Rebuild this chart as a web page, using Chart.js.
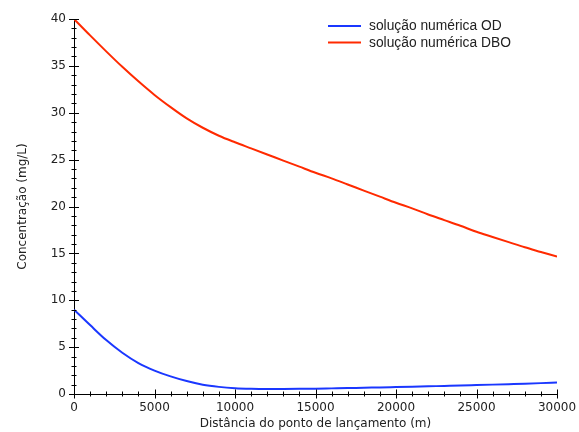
<!DOCTYPE html>
<html>
<head>
<meta charset="utf-8">
<script src="https://cdn.jsdelivr.net/npm/chart.js@4.4.1/dist/chart.umd.min.js"></script>
<style>
  html, body { margin: 0; padding: 0; background: #fff; }
  #wrap { width: 579px; height: 432px; }
</style>
</head>
<body>
<div id="wrap"><canvas id="chart" width="579" height="432"></canvas></div>
<script>
// distância (m)
const dist = [0,1000,2000,3000,4000,5000,6000,7000,8000,9000,10000,
  11000,12000,13000,14000,15000,16000,17000,18000,19000,20000,
  21000,22000,23000,24000,25000,26000,27000,28000,29000,30000];
// OD (mg/L)
const od = [9.0,7.35,5.75,4.4,3.3,2.5,1.88,1.38,0.99,0.76,0.62,
  0.56,0.54,0.54,0.55,0.57,0.6,0.63,0.67,0.7,0.74,
  0.78,0.82,0.86,0.9,0.95,1.0,1.05,1.1,1.16,1.23];
// DBO (mg/L)
const dbo = [40,38.25,36.55,34.9,33.35,31.9,30.6,29.4,28.4,27.55,26.85,
  26.2,25.55,24.9,24.25,23.6,23.0,22.35,21.7,21.05,20.4,
  19.8,19.15,18.55,17.95,17.3,16.75,16.2,15.65,15.15,14.65];
const labels = ['solução numérica OD', 'solução numérica DBO'];
const colors = ['#1a37ff', '#ff2a00'];

const xTicks = { min: 0, max: 30000, major: 5000, minor: 1000 };
const yTicks = { min: 0, max: 40, major: 5, minor: 1 };

const pts = arr => arr.map((v,i)=>({ x: dist[i], y: v }));

// ticks that cross the axis line, major + minor
const crossTicks = {
  id: 'crossTicks',
  afterDraw(chart) {
    const {ctx, chartArea, scales:{x, y}} = chart;
    ctx.save();
    ctx.strokeStyle = '#000';
    ctx.lineWidth = 1;
    ctx.beginPath();
    for (let v = xTicks.min; v <= xTicks.max; v += xTicks.minor) {
      const px = Math.round(x.getPixelForValue(v)) + 0.5;
      const len = v % xTicks.major === 0 ? 4.5 : 2.5;
      ctx.moveTo(px, chartArea.bottom - len);
      ctx.lineTo(px, chartArea.bottom + len);
    }
    for (let v = yTicks.min; v <= yTicks.max; v += yTicks.minor) {
      const py = Math.round(y.getPixelForValue(v)) + 0.5;
      const len = v % yTicks.major === 0 ? 5 : 2.5;
      ctx.moveTo(chartArea.left - len, py);
      ctx.lineTo(chartArea.left + len, py);
    }
    ctx.stroke();
    ctx.restore();
  }
};

// legend drawn inside the plot, top right
const innerLegend = {
  id: 'innerLegend',
  afterDraw(chart) {
    const {ctx, chartArea} = chart;
    const x0 = chartArea.right - 229;
    ctx.save();
    ctx.font = '13.8px "Liberation Sans", Arial, sans-serif';
    ctx.textBaseline = 'middle';
    ctx.fillStyle = '#222';
    chart.data.datasets.forEach((ds, i) => {
      const yy = chartArea.top + 7 + i * 16.6;
      ctx.strokeStyle = ds.borderColor;
      ctx.lineWidth = 2;
      ctx.beginPath();
      ctx.moveTo(x0, yy);
      ctx.lineTo(x0 + 33, yy);
      ctx.stroke();
      ctx.fillText(ds.label, x0 + 41, yy + 0.5);
    });
    ctx.restore();
  }
};

const tickFont = { family: '"DejaVu Sans", sans-serif', size: 12 };
const titleFont = { family: '"DejaVu Sans", sans-serif', size: 12 };

new Chart(document.getElementById('chart').getContext('2d'), {
  type: 'line',
  data: {
    datasets: [
      { label: labels[0], data: pts(od), borderColor: colors[0], borderWidth: 2, pointRadius: 0, cubicInterpolationMode: 'monotone', fill: false },
      { label: labels[1], data: pts(dbo), borderColor: colors[1], borderWidth: 2, pointRadius: 0, cubicInterpolationMode: 'monotone', fill: false }
    ]
  },
  options: {
    responsive: false,
    animation: false,
    layout: { padding: { top: 19, right: 22, left: 0, bottom: 0 } },
    plugins: { legend: { display: false }, tooltip: { enabled: false } },
    scales: {
      x: {
        type: 'linear', min: xTicks.min, max: xTicks.max,
        grid: { display: false, drawTicks: false },
        border: { display: true, color: '#000', width: 1 },
        ticks: { stepSize: xTicks.major, color: '#222', font: tickFont, padding: 7, maxRotation: 0,
          callback: v => String(v) },
        title: { display: true, text: 'Distância do ponto de lançamento (m)', color: '#222', font: titleFont, padding: { top: 0, bottom: 1 } },
        afterFit: s => { s.height = 38; s.paddingLeft = 0; s.paddingRight = 0; }
      },
      y: {
        type: 'linear', min: yTicks.min, max: yTicks.max,
        grid: { display: false, drawTicks: false },
        border: { display: true, color: '#000', width: 1 },
        ticks: { stepSize: yTicks.major, color: '#222', font: tickFont, padding: 8 },
        title: { display: true, text: 'Concentração (mg/L)', color: '#222', font: titleFont, padding: { top: 16, bottom: 0 } },
        afterFit: s => { s.width = 74; s.paddingTop = 0; s.paddingBottom = 0; }
      }
    }
  },
  plugins: [crossTicks, innerLegend]
});
</script>
</body>
</html>
